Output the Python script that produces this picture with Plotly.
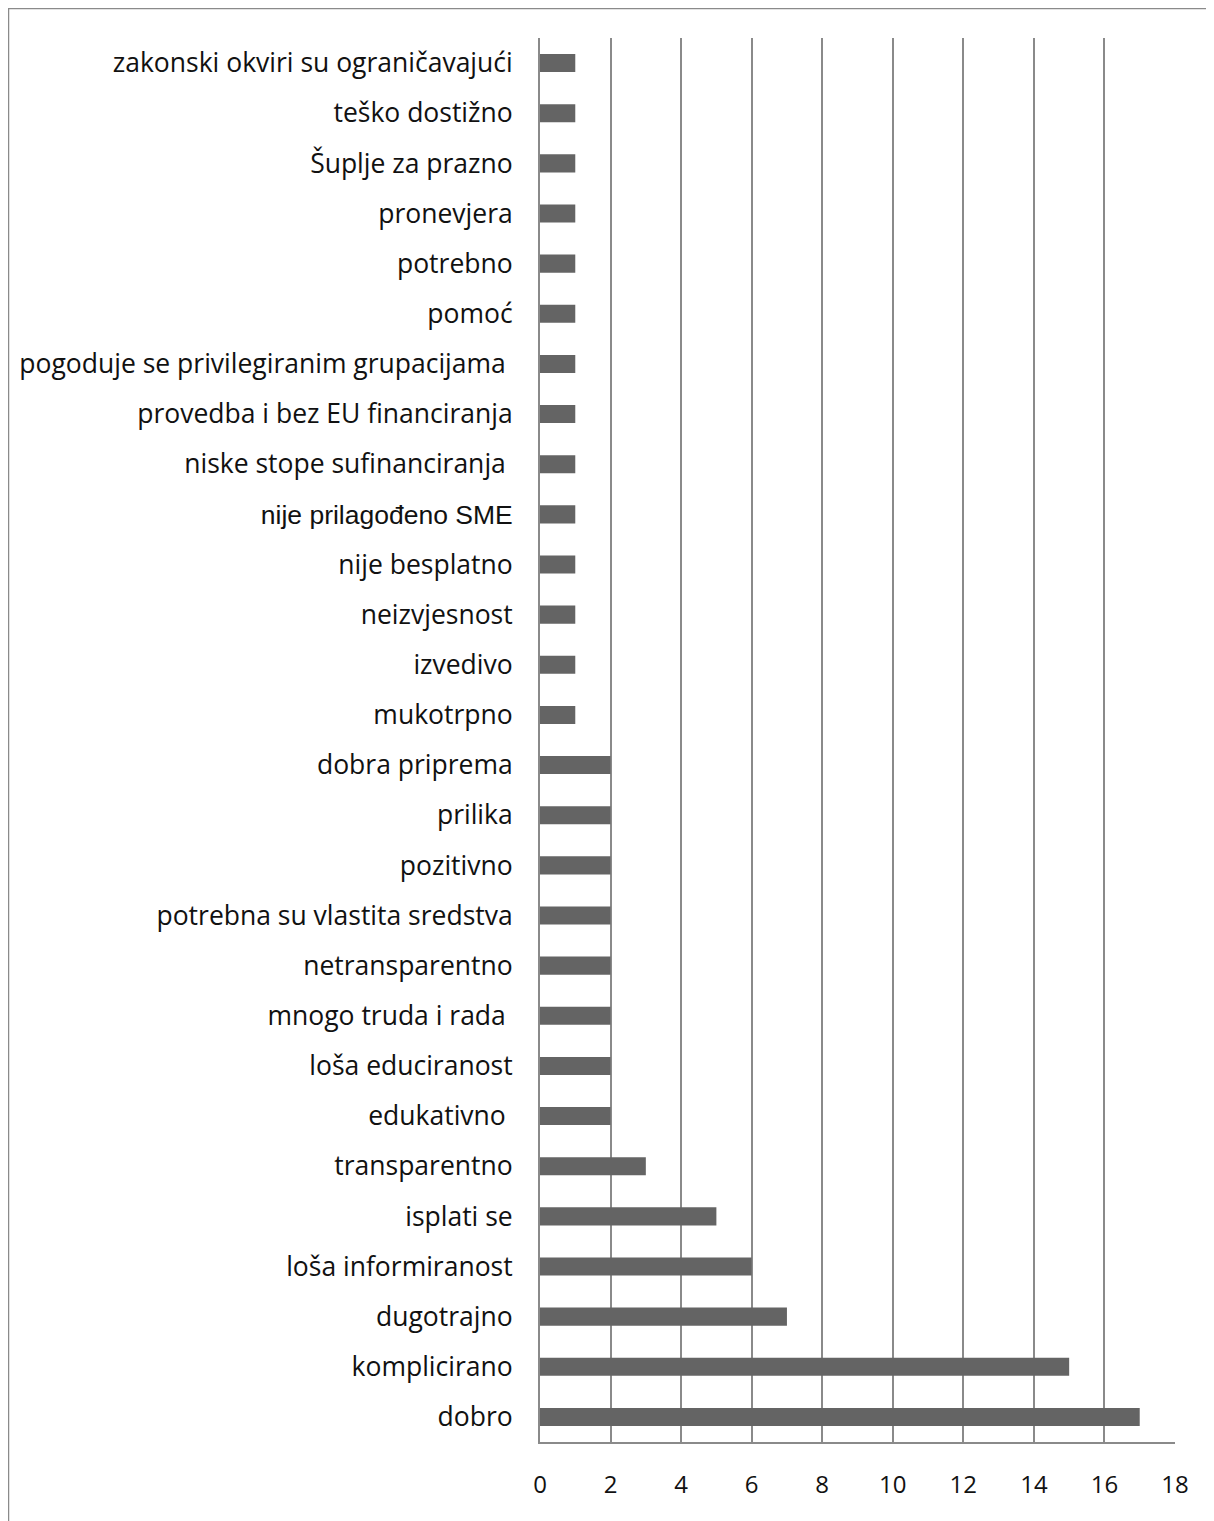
import plotly.graph_objects as go

categories = [
    "dobro", "komplicirano", "dugotrajno", "loša informiranost", "isplati se",
    "transparentno", "edukativno ", "loša educiranost", "mnogo truda i rada ",
    "netransparentno", "potrebna su vlastita sredstva", "pozitivno", "prilika",
    "dobra priprema", "mukotrpno", "izvedivo", "neizvjesnost", "nije besplatno",
    "nije prilagođeno SME", "niske stope sufinanciranja ", "provedba i bez EU financiranja",
    "pogoduje se privilegiranim grupacijama ", "pomoć", "potrebno", "pronevjera",
    "Šuplje za prazno", "teško dostižno", "zakonski okviri su ograničavajući",
]
values = [17, 15, 7, 6, 5, 3, 2, 2, 2, 2, 2, 2, 2, 2, 1, 1, 1, 1, 1, 1, 1, 1, 1, 1, 1, 1, 1, 1]
x_ticks = [0, 2, 4, 6, 8, 10, 12, 14, 16, 18]

ticktext = []
for c in categories:
    if c == "nije prilagođeno SME":
        ticktext.append('<span style="font-family:Liberation Sans, Arial;font-size:26.5px">' + c + "</span>")
    else:
        ticktext.append(c)

fig = go.Figure(go.Bar(
    y=list(range(len(categories))), x=values, orientation="h",
    marker=dict(color="#646464", line=dict(width=0)),
))

OFF = 8  # page body margin
W, H = 1214 - OFF, 1521 - OFF
L, R, T, B = 540 - OFF, 1175 - OFF, 38 - OFF, 1442 - OFF
pw, ph = R - L, B - T

FONT = "Open Sans, Lato, sans-serif"

fig.update_layout(
    width=W, height=H,
    margin=dict(l=L, r=W - R, t=T, b=H - B, pad=0),
    paper_bgcolor="white", plot_bgcolor="white",
    bargap=0.64, showlegend=False,
    font=dict(family=FONT, size=26.5, color="#111111"),
    xaxis=dict(
        range=[0, 18], tickvals=x_ticks, ticktext=[str(v) for v in x_ticks],
        showgrid=True, gridcolor="#8a8a8a", gridwidth=2,
        showline=True, linecolor="#8a8a8a", linewidth=2,
        zeroline=False, ticks="", ticklabelstandoff=20,
        tickfont=dict(size=24, family=FONT, color="#111111"),
        fixedrange=True,
    ),
    yaxis=dict(
        range=[-0.5, len(categories) - 0.5],
        tickvals=list(range(len(categories))), ticktext=ticktext,
        showgrid=False, showline=True, linecolor="#8a8a8a", linewidth=2,
        zeroline=False, ticks="", ticklabelstandoff=20,
        tickfont=dict(size=26.5, family=FONT, color="#111111"),
        fixedrange=True,
    ),
    shapes=[dict(
        type="rect", xref="paper", yref="paper",
        x0=(0 - L) / pw, x1=2.0, y0=-1.0, y1=(B - 0) / ph,
        line=dict(color="#8a8a8a", width=2.5), fillcolor="rgba(0,0,0,0)", layer="above",
    )],
)

fig.write_html("out.html")
